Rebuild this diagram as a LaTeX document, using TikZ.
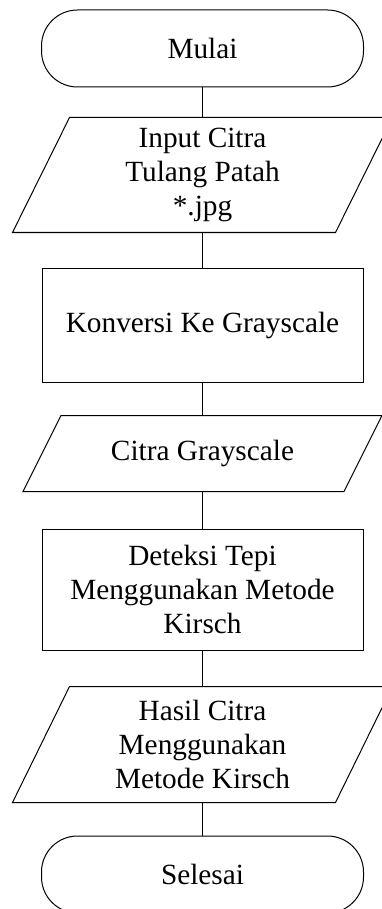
\documentclass[tikz,border=0pt]{standalone}
\usepackage{fontspec}
\setmainfont{Liberation Serif}
\begin{document}
\begin{tikzpicture}[x=1pt,y=-1pt,
  line width=1pt,
  txt/.style={font=\fontsize{29.3pt}{34pt}\selectfont, align=center, inner sep=0pt},
  term/.style={txt, draw, rectangle, rounded corners=36pt, minimum width=322pt, minimum height=77pt},
  proc/.style={txt, draw, rectangle, minimum width=321pt},
  io/.style={txt, rectangle, minimum width=322pt}
]
\useasboundingbox (0,0) rectangle (382,909);

\node[term] (start) at (202.5,48.5) {Mulai};
\node[io, minimum height=114pt] (in) at (202.5,175) {Input Citra\\Tulang Patah\\*.jpg};
\node[proc, minimum height=114pt] (conv) at (202.5,325) {Konversi Ke Grayscale};
\node[io, minimum width=320pt, minimum height=75pt] (gray) at (202.5,453.5) {Citra Grayscale};
\node[proc, minimum height=121pt] (det) at (202.5,589.5) {Deteksi Tepi\\Menggunakan Metode\\Kirsch};
\node[io, minimum height=115pt] (res) at (202.5,744.5) {Hasil Citra\\Menggunakan\\Metode Kirsch};
\node[term] (stop) at (202.5,874.5) {Selesai};

\draw ([xshift=-28.5pt]in.south west) -- ([xshift=28.5pt]in.north west) -- ([xshift=28.5pt]in.north east) -- ([xshift=-28.5pt]in.south east) -- cycle;
\draw ([xshift=-19pt]gray.south west) -- ([xshift=19pt]gray.north west) -- ([xshift=19pt]gray.north east) -- ([xshift=-19pt]gray.south east) -- cycle;
\draw ([xshift=-28.5pt]res.south west) -- ([xshift=28.5pt]res.north west) -- ([xshift=28.5pt]res.north east) -- ([xshift=-28.5pt]res.south east) -- cycle;

\draw (start) -- (in);
\draw (in) -- (conv);
\draw (conv) -- (gray);
\draw (gray) -- (det);
\draw (det) -- (res);
\draw (res) -- (stop);
\end{tikzpicture}
\end{document}
